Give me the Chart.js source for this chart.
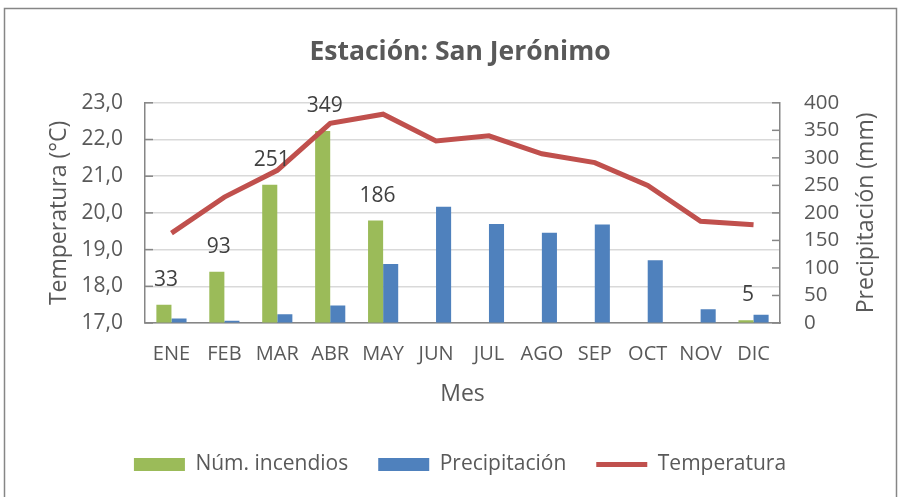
<!DOCTYPE html>
<html lang="es">
<head>
<meta charset="UTF-8">
<title>Estación: San Jerónimo</title>
<script src="https://cdn.jsdelivr.net/npm/chart.js"></script>
<style>
  body { margin: 0; background: #fff; }
  #wrap { width: 900px; height: 497px; }
</style>
</head>
<body>
<div id="wrap"><canvas id="climaChart" width="900" height="497"></canvas></div>
<script>
// datos
const meses = ['ENE', 'FEB', 'MAR', 'ABR', 'MAY', 'JUN', 'JUL', 'AGO', 'SEP', 'OCT', 'NOV', 'DIC'];
const incendios = [33, 93, 251, 349, 186, 0, 0, 0, 0, 0, 0, 5];
const precipitacion = [8, 4, 16, 32, 107, 211, 180, 164, 179, 114, 25, 15];
const temperatura = [19.45, 20.43, 21.16, 22.44, 22.69, 21.96, 22.1, 21.61, 21.37, 20.75, 19.77, 19.68];

const gris = '#595959';
const fuente = "'Open Sans', sans-serif";

// marco exterior
const marco = {
  id: 'marco',
  beforeDraw(chart) {
    const ctx = chart.ctx;
    ctx.save();
    ctx.strokeStyle = '#868686';
    ctx.lineWidth = 1.5;
    ctx.strokeRect(4.5, 8.5, 892, 500);
    ctx.restore();
  }
};

// etiquetas de número de incendios (solo los distintos de cero)
const etiquetas = {
  id: 'etiquetas',
  afterDatasetsDraw(chart) {
    const ctx = chart.ctx;
    const meta = chart.getDatasetMeta(0);
    ctx.save();
    ctx.fillStyle = '#404040';
    ctx.font = '21px ' + fuente;
    ctx.textAlign = 'center';
    ctx.textBaseline = 'alphabetic';
    meta.data.forEach((bar, i) => {
      if (!incendios[i]) return;
      ctx.fillText(String(incendios[i]), bar.x + 2, bar.y - 19);
    });
    ctx.restore();
  }
};

// marcas hacia dentro de los ejes y título del eje derecho (girado como el izquierdo)
const marcas = {
  id: 'marcas',
  afterDraw(chart) {
    const ctx = chart.ctx;
    const izq = chart.scales.y;
    const der = chart.scales.y1;
    const area = chart.chartArea;
    ctx.save();
    ctx.strokeStyle = '#868686';
    ctx.lineWidth = 1.5;
    izq.ticks.forEach(t => {
      const y = izq.getPixelForValue(t.value);
      ctx.beginPath();
      ctx.moveTo(izq.right, y);
      ctx.lineTo(izq.right + 8, y);
      ctx.stroke();
    });
    der.ticks.forEach(t => {
      const y = der.getPixelForValue(t.value);
      ctx.beginPath();
      ctx.moveTo(der.left - 8, y);
      ctx.lineTo(der.left, y);
      ctx.stroke();
    });
    ctx.translate(866, (area.top + area.bottom) / 2);
    ctx.rotate(-Math.PI / 2);
    ctx.fillStyle = gris;
    ctx.font = '23px ' + fuente;
    ctx.textAlign = 'center';
    ctx.textBaseline = 'middle';
    ctx.fillText('Precipitación (mm)', 0, 0);
    ctx.restore();
  }
};

new Chart(document.getElementById('climaChart'), {
  data: {
    labels: meses,
    datasets: [
      {
        type: 'bar',
        label: 'Núm. incendios',
        data: incendios,
        backgroundColor: '#9BBB59',
        borderWidth: 0,
        yAxisID: 'y1',
        pointStyle: 'rect',
        order: 1
      },
      {
        type: 'bar',
        label: 'Precipitación',
        data: precipitacion,
        backgroundColor: '#4F81BD',
        borderWidth: 0,
        yAxisID: 'y1',
        pointStyle: 'rect',
        order: 1
      },
      {
        type: 'line',
        label: 'Temperatura',
        data: temperatura,
        borderColor: '#C0504D',
        backgroundColor: '#C0504D',
        borderWidth: 5,
        pointRadius: 0,
        pointStyle: 'line',
        tension: 0,
        yAxisID: 'y',
        order: 0
      }
    ]
  },
  options: {
    responsive: false,
    animation: false,
    font: { family: fuente },
    datasets: { bar: { categoryPercentage: 0.57, barPercentage: 1.0 } },
    layout: { padding: { left: 30, right: 10, top: 16, bottom: 12 } },
    plugins: {
      title: {
        display: true,
        text: 'Estación: San Jerónimo',
        color: gris,
        font: { family: fuente, size: 26.5, weight: 'bold' },
        padding: { top: 21, bottom: 34 }
      },
      legend: {
        position: 'bottom',
        labels: {
          color: gris,
          font: { family: fuente, size: 21 },
          usePointStyle: true,
          pointStyleWidth: 51,
          boxHeight: 13,
          padding: 30,
          sort: (a, b) => a.datasetIndex - b.datasetIndex
        }
      },
      tooltip: { enabled: false }
    },
    scales: {
      x: {
        grid: { display: false, drawTicks: false },
        border: { color: '#868686', width: 1.5 },
        afterFit: s => { s.height = 101; },
        ticks: { color: gris, font: { family: fuente, size: 20 }, padding: 19 },
        title: { display: true, text: 'Mes', color: gris, font: { family: fuente, size: 23 }, padding: { top: 14, bottom: 16 } }
      },
      y: {
        position: 'left',
        min: 17,
        max: 23,
        afterFit: s => { s.width = 115; },
        ticks: {
          stepSize: 1,
          color: gris,
          font: { family: fuente, size: 21 },
          padding: 22,
          callback: v => v.toFixed(1).replace('.', ',')
        },
        grid: { color: '#d9d9d9', lineWidth: 1.5, drawTicks: false },
        border: { color: '#868686', width: 1.5 },
        title: { display: true, text: 'Temperatura (°C)', color: gris, font: { family: fuente, size: 23 }, padding: { top: 16, bottom: 0 } }
      },
      y1: {
        position: 'right',
        min: 0,
        max: 400,
        afterFit: s => { s.width = 110; },
        ticks: { stepSize: 50, autoSkip: false, color: gris, font: { family: fuente, size: 20.5 }, padding: 24 },
        grid: { drawOnChartArea: false, drawTicks: false },
        border: { color: '#868686', width: 1.5 }
      }
    }
  },
  plugins: [marco, etiquetas, marcas]
});
</script>
</body>
</html>
